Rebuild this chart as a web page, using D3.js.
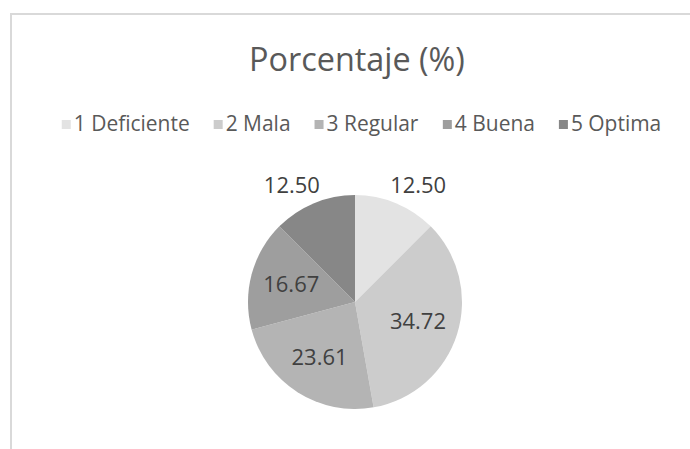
<!DOCTYPE html>
<html><head><meta charset="utf-8">
<script src="https://cdn.jsdelivr.net/npm/d3@7"></script>
<style>html,body{margin:0;padding:0;background:#fff;}svg{display:block;}</style>
</head><body>
<svg id="chart" width="690" height="449"></svg>
<script>
const title = "Porcentaje (%)";
const categories = ["1 Deficiente", "2 Mala", "3 Regular", "4 Buena", "5 Optima"];
const values = [12.50, 34.72, 23.61, 16.67, 12.50];
const labels = ["12.50", "34.72", "23.61", "16.67", "12.50"];
const colors = ["#e3e3e3", "#cccccc", "#b4b4b4", "#9e9e9e", "#878787"];
const outside = [true, false, false, false, true];

const svg = d3.select("#chart");
const font = "'Open Sans', 'Noto Sans', sans-serif";

function fit(sel, target, base) {
  const w = sel.node().getComputedTextLength();
  sel.attr("font-size", base * target / w);
  return base * target / w;
}

// chart area border
svg.append("rect").attr("x", 11).attr("y", 14).attr("width", 720).attr("height", 480)
  .attr("fill", "#fff").attr("stroke", "#d9d9d9").attr("stroke-width", 2);

// title
const t = svg.append("text").attr("x", 357).attr("y", 71).attr("text-anchor", "middle")
  .attr("font-family", font).attr("font-size", 28).attr("fill", "#595959").text(title);
fit(t, 216, 28);

// legend
const color = d3.scaleOrdinal().domain(categories).range(colors);
const probe = svg.append("text").attr("font-family", font).attr("font-size", 16).text(categories[0]);
const legSize = fit(probe, 116, 16);
probe.remove();
const legend = svg.append("g");
const items = legend.selectAll("g").data(categories).join("g");
items.append("rect").attr("width", 9).attr("height", 9).attr("y", -11).attr("fill", d => color(d));
items.append("text").attr("x", 12).attr("y", 0).attr("font-family", font).attr("font-size", legSize)
  .attr("fill", "#595959").text(d => d);
let xoff = 0;
const gap = 24;
items.each(function() {
  const w = this.getBBox().width;
  d3.select(this).attr("transform", `translate(${xoff},131)`);
  xoff += w + gap;
});
const total = xoff - gap;
legend.attr("transform", `translate(${361.5 - total / 2},0)`);

// pie
const cx = 355, cy = 302, R = 107;
const pie = d3.pie().sort(null).value(d => d);
const arcs = pie(values);
const arc = d3.arc().innerRadius(0).outerRadius(R);
const g = svg.append("g").attr("transform", `translate(${cx},${cy})`);
g.selectAll("path").data(arcs).join("path")
  .attr("d", arc).attr("fill", (d, i) => color(categories[i]));

const probe2 = svg.append("text").attr("font-family", font).attr("font-size", 16).text("12.50");
const lblSize = fit(probe2, 56, 16);
probe2.remove();
const inner = d3.arc().innerRadius(66).outerRadius(66);
g.selectAll("text.lbl").data(arcs).join("text").attr("class", "lbl")
  .attr("text-anchor", "middle").attr("font-family", font).attr("font-size", lblSize)
  .attr("fill", "#404040")
  .attr("transform", (d, i) => {
    const a = (d.startAngle + d.endAngle) / 2;
    let x, y;
    if (outside[i]) { x = Math.sin(a) * 165; y = -Math.cos(a) * 126; }
    else { [x, y] = inner.centroid(d); }
    return `translate(${x},${y + 7})`;
  })
  .text((d, i) => labels[i]);
</script>
</body></html>
